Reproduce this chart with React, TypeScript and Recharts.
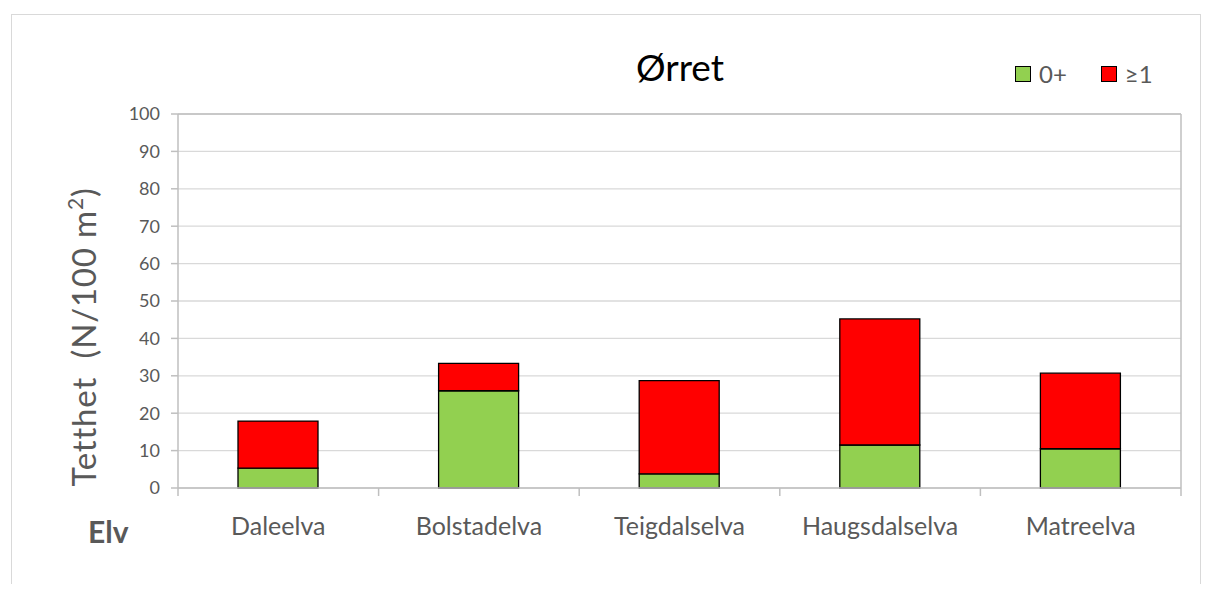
import { BarChart, Bar, XAxis, YAxis, CartesianGrid, Legend } from "recharts";

const rivers = ["Daleelva", "Bolstadelva", "Teigdalselva", "Haugsdalselva", "Matreelva"];
const fry = [5.3, 26.0, 3.8, 11.5, 10.5]; // 0+
const older = [12.6, 7.3, 24.9, 33.7, 20.2]; // ≥1
const yTicks = [0, 10, 20, 30, 40, 50, 60, 70, 80, 90, 100];

const data = rivers.map((name, i) => ({ name, fry: fry[i], older: older[i] }));

const FONT = "Lato, 'Open Sans', sans-serif";
const GREY = "#595959";
const AXIS = "#bfbfbf";

function LegendBox({ payload }: any) {
  return (
    <div style={{ display: "flex", fontFamily: FONT, fontSize: 24, color: GREY, lineHeight: "24px" }}>
      {(payload || []).map((p: any) => (
        <div key={p.value} style={{ display: "flex", alignItems: "center", marginRight: 34 }}>
          <span
            style={{
              width: 14,
              height: 14,
              background: p.color,
              border: "1.5px solid #000",
              display: "inline-block",
              marginRight: 8,
            }}
          />
          {p.value}
        </div>
      ))}
    </div>
  );
}

function YLabel({ viewBox }: any) {
  const x = viewBox.x + 18;
  const y = viewBox.y + viewBox.height / 2 + 36;
  return (
    <text
      x={x}
      y={y}
      transform={`rotate(-90, ${x}, ${y})`}
      textAnchor="middle"
      fontFamily={FONT}
      fontSize={33}
      letterSpacing={0.8}
      fill={GREY}
    >
      Tetthet {"\u00a0"}(N/100 m<tspan fontSize={21} dy={-13}>2</tspan>
      <tspan dy={13}>)</tspan>
    </text>
  );
}

// category label + tick marks between categories (Excel style)
function RiverTick({ x, y, payload, index, visibleTicksCount }: any) {
  const half = payload.offset ?? 100;
  return (
    <g>
      <line x1={x - half} x2={x - half} y1={y} y2={y + 8} stroke={AXIS} strokeWidth={1.5} />
      {index === visibleTicksCount - 1 && (
        <line x1={x + half} x2={x + half} y1={y} y2={y + 8} stroke={AXIS} strokeWidth={1.5} />
      )}
      <text x={x} y={y} dy={47} textAnchor="middle" fontFamily={FONT} fontSize={25} fill={GREY}>
        {payload.value}
      </text>
    </g>
  );
}

export default function App() {
  return (
    <div style={{ position: "relative", width: 1196, height: 576, overflow: "hidden", background: "#fff" }}>
      <div
        style={{
          position: "absolute",
          left: 3,
          top: 6,
          width: 1188,
          height: 600,
          borderTop: "1.5px solid #d9d9d9",
          borderLeft: "1.5px solid #d9d9d9",
          borderRight: "1.5px solid #d9d9d9",
        }}
      />
      <div
        style={{
          position: "absolute",
          left: 672,
          top: 40,
          transform: "translateX(-50%)",
          fontFamily: FONT,
          fontSize: 37,
          lineHeight: 1,
          color: "#000",
        }}
      >
        Ørret
      </div>
      <div
        style={{
          position: "absolute",
          left: 80,
          top: 508,
          fontFamily: FONT,
          fontSize: 30,
          fontWeight: 700,
          lineHeight: 1,
          color: GREY,
        }}
      >
        Elv
      </div>
      <BarChart
        width={1196}
        height={576}
        data={data}
        margin={{ top: 81, right: 22, left: 70, bottom: 95 }}
        style={{ position: "absolute", left: 0, top: 0 }}
      >
        <CartesianGrid vertical={false} stroke="#d9d9d9" strokeWidth={1.3} />
        <XAxis
          dataKey="name"
          height={1}
          axisLine={{ stroke: AXIS, strokeWidth: 1.5 }}
          tickLine={false}
          tickSize={0}
          tickMargin={0}
          interval={0}
          tick={RiverTick}
        />
        <XAxis
          xAxisId="top"
          orientation="top"
          type="number"
          domain={[0, 1]}
          height={1}
          tick={false}
          tickLine={false}
          axisLine={{ stroke: AXIS, strokeWidth: 1.5 }}
        />
        <YAxis
          domain={[0, 100]}
          ticks={yTicks}
          width={100}
          tickSize={7}
          tickMargin={11}
          axisLine={{ stroke: AXIS, strokeWidth: 1.5 }}
          tickLine={{ stroke: AXIS, strokeWidth: 1.5 }}
          tick={{ fontFamily: FONT, fontSize: 18, fill: GREY }}
          label={{ content: YLabel }}
        />
        <YAxis
          yAxisId="right"
          orientation="right"
          width={1}
          domain={[0, 1]}
          tick={false}
          tickLine={false}
          axisLine={{ stroke: AXIS, strokeWidth: 1.5 }}
        />
        <Legend
          verticalAlign="top"
          align="left"
          content={LegendBox}
          wrapperStyle={{ top: 54, left: 1007, width: 180 }}
        />
        <Bar
          dataKey="fry"
          name="0+"
          stackId="a"
          barSize={80}
          fill="#92d050"
          stroke="#000"
          strokeWidth={1.3}
          isAnimationActive={false}
        />
        <Bar
          dataKey="older"
          name="≥1"
          stackId="a"
          barSize={80}
          fill="#ff0000"
          stroke="#000"
          strokeWidth={1.3}
          isAnimationActive={false}
        />
      </BarChart>
    </div>
  );
}
